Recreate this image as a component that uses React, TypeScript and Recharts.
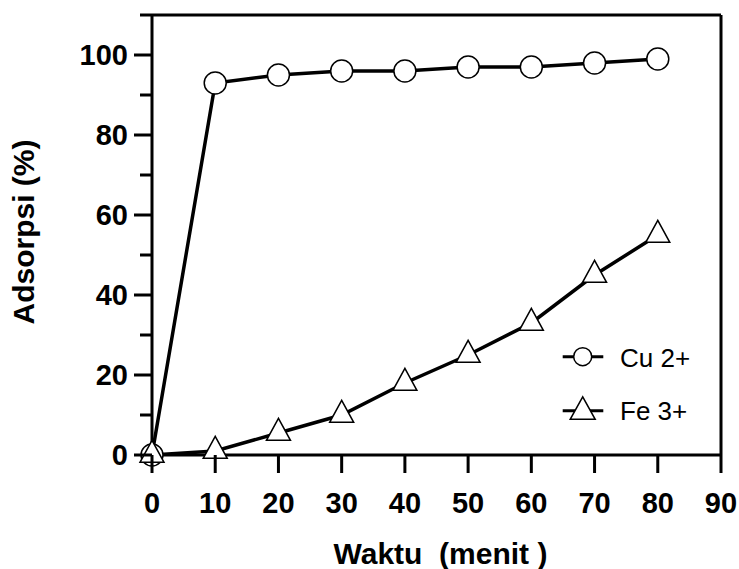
import React from "react";
import {
  Label,
  Legend,
  Line,
  LineChart,
  ReferenceLine,
  XAxis,
  YAxis,
} from "recharts";

const waktu = [0, 10, 20, 30, 40, 50, 60, 70, 80];
const cu = [0, 93, 95, 96, 96, 97, 97, 98, 99];
const fe = [0, 1, 5.5, 10, 18, 25, 33, 45, 55];
const xTicks = [0, 10, 20, 30, 40, 50, 60, 70, 80, 90];
const yTicks = [0, 10, 20, 30, 40, 50, 60, 70, 80, 90, 100, 110];

const data = waktu.map((t, i) => ({ t, cu: cu[i], fe: fe[i] }));

const FONT = '"Liberation Sans", Arial, sans-serif';
const INK = "#000";

function triPoints(cx: number, cy: number, w: number, h: number) {
  // centred on the centroid, apex up
  return `${cx},${cy - (2 * h) / 3} ${cx - w / 2},${cy + h / 3} ${cx + w / 2},${cy + h / 3}`;
}

function CircleDot(props: any) {
  const { cx, cy, index } = props;
  if (cx == null || cy == null) return <g key={`c${index}`} />;
  return <circle key={`c${index}`} cx={cx} cy={cy} r={11} fill="#fff" stroke={INK} strokeWidth={1.5} />;
}

function TriangleDot(props: any) {
  const { cx, cy, index } = props;
  if (cx == null || cy == null) return <g key={`t${index}`} />;
  return (
    <polygon key={`t${index}`} points={triPoints(cx, cy, 24, 22)} fill="#fff" stroke={INK} strokeWidth={1.5} />
  );
}

function YTick(props: any) {
  const { x, y, payload } = props;
  const v = payload.value as number;
  const major = v % 20 === 0 && v <= 100;
  return (
    <g>
      <line x1={x - (major ? 18 : 12)} x2={x} y1={y} y2={y} stroke={INK} strokeWidth={3} />
      {major && (
        <text x={x - 24} y={y + 10.4} textAnchor="end" fontFamily={FONT} fontWeight="bold" fontSize={29} fill={INK}>
          {v}
        </text>
      )}
    </g>
  );
}

function XTick(props: any) {
  const { x, y, payload } = props;
  return (
    <g>
      <line x1={x} x2={x} y1={y} y2={y + 18} stroke={INK} strokeWidth={3} />
      <text x={x} y={y + 58} textAnchor="middle" fontFamily={FONT} fontWeight="bold" fontSize={29} fill={INK}>
        {payload.value}
      </text>
    </g>
  );
}

function XTitle(props: any) {
  const vb = props.viewBox;
  return (
    <text
      x={vb.x + vb.width / 2 + 4}
      y={vb.y + 108.5}
      textAnchor="middle"
      fontFamily={FONT}
      fontWeight="bold"
      fontSize={30}
      fill={INK}
      style={{ whiteSpace: "pre" }}
    >
      {"Waktu  (menit )"}
    </text>
  );
}

function YTitle(props: any) {
  const vb = props.viewBox;
  const cy = vb.y + 217;
  return (
    <text
      x={34}
      y={cy}
      transform={`rotate(-90 34 ${cy})`}
      textAnchor="middle"
      fontFamily={FONT}
      fontWeight="bold"
      fontSize={30}
      fill={INK}
    >
      Adsorpsi (%)
    </text>
  );
}

function LegendBox() {
  return (
    <svg width={160} height={95} style={{ display: "block" }}>
      <line x1={7.7} x2={48.3} y1={21.7} y2={21.7} stroke={INK} strokeWidth={3} />
      <circle cx={27.7} cy={21.7} r={9} fill="#fff" stroke={INK} strokeWidth={1.5} />
      <text x={65} y={31.7} fontFamily={FONT} fontSize={26} fill={INK}>
        Cu 2+
      </text>
      <line x1={7.7} x2={48.3} y1={75.7} y2={75.7} stroke={INK} strokeWidth={3} />
      <polygon points={triPoints(27.7, 76.8, 25, 22.5)} fill="#fff" stroke={INK} strokeWidth={1.5} />
      <text x={65} y={85} fontFamily={FONT} fontSize={26} fill={INK}>
        Fe 3+
      </text>
    </svg>
  );
}

export default function App() {
  return (
    <div style={{ position: "absolute", left: 0, top: 0, background: "#fff" }}>
      <LineChart width={739} height={569} data={data} margin={{ top: 15, right: 18, bottom: 0, left: 0 }}>
        <XAxis
          dataKey="t"
          type="number"
          domain={[0, 90]}
          ticks={xTicks}
          interval={0}
          height={114}
          tickSize={0}
          tickMargin={0}
          tickLine={false}
          axisLine={{ stroke: INK, strokeWidth: 3 }}
          tick={<XTick />}
        >
          <Label content={<XTitle />} />
        </XAxis>
        <YAxis
          type="number"
          domain={[0, 110]}
          ticks={yTicks}
          interval={0}
          width={152}
          tickSize={0}
          tickMargin={0}
          tickLine={false}
          axisLine={{ stroke: INK, strokeWidth: 3 }}
          tick={<YTick />}
        >
          <Label content={<YTitle />} />
        </YAxis>
        <ReferenceLine y={110} stroke={INK} strokeWidth={3} />
        <ReferenceLine x={90} stroke={INK} strokeWidth={3} />
        <Legend
          layout="vertical"
          align="center"
          verticalAlign="middle"
          content={() => <LegendBox />}
          wrapperStyle={{ left: 555, top: 335, width: 160, height: 95 }}
        />
        <Line
          type="linear"
          dataKey="cu"
          stroke={INK}
          strokeWidth={3.5}
          dot={CircleDot}
          activeDot={false}
          isAnimationActive={false}
        />
        <Line
          type="linear"
          dataKey="fe"
          stroke={INK}
          strokeWidth={3.5}
          dot={TriangleDot}
          activeDot={false}
          isAnimationActive={false}
        />
      </LineChart>
    </div>
  );
}
